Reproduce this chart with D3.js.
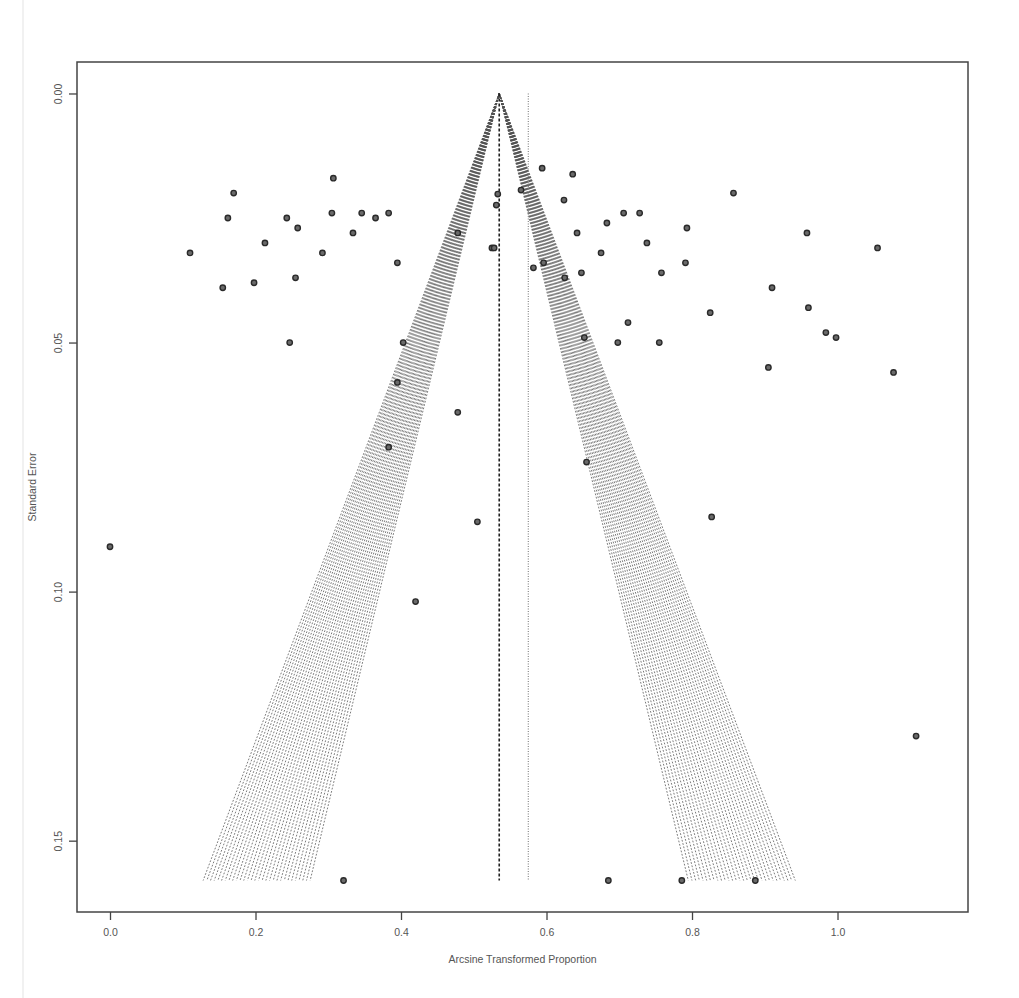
<!DOCTYPE html>
<html>
<head>
<meta charset="utf-8">
<script src="https://cdn.jsdelivr.net/npm/d3@7"></script>
<style>
  html, body { margin: 0; padding: 0; background: #fff; }
  svg { display: block; }
  text { font-family: "Liberation Sans", Arial, sans-serif; fill: #555; }
</style>
</head>
<body>
<svg id="chart" width="1019" height="998"></svg>
<script>
// ---- data ----
const studyX = [
  0.110, 0.155, 0.170, 0.162, 0.198, 0.213, 0.243, 0.258, 0.255, 0.247,
  0.292, 0.305, 0.307, 0.334, 0.346, 0.365, 0.383, 0.395, 0.403, 0.395,
  0.383, 0.478, 0.478, 0.505, 0.525, 0.528, 0.531, 0.533, 0.420, 0.000,
  0.321,
  0.565, 0.582, 0.594, 0.596, 0.624, 0.636, 0.642, 0.648, 0.652, 0.655,
  0.625, 0.675, 0.683, 0.698, 0.706, 0.712, 0.728, 0.738, 0.755, 0.758,
  0.791, 0.793, 0.825, 0.827, 0.857, 0.905, 0.910, 0.958, 0.960, 0.984,
  0.998, 1.055, 1.077, 1.108, 0.685, 0.786, 0.887
];
const studySE = [
  0.032, 0.039, 0.020, 0.025, 0.038, 0.030, 0.025, 0.027, 0.037, 0.050,
  0.032, 0.024, 0.017, 0.028, 0.024, 0.025, 0.024, 0.034, 0.050, 0.058,
  0.071, 0.064, 0.028, 0.086, 0.031, 0.031, 0.0224, 0.0202, 0.102, 0.091,
  0.158,
  0.0194, 0.035, 0.015, 0.034, 0.0214, 0.0162, 0.028, 0.036, 0.049, 0.074,
  0.037, 0.032, 0.026, 0.050, 0.024, 0.046, 0.024, 0.030, 0.050, 0.036,
  0.034, 0.027, 0.044, 0.085, 0.020, 0.055, 0.039, 0.028, 0.043, 0.048,
  0.049, 0.031, 0.056, 0.129, 0.158, 0.158, 0.158
];
const fixedEstimate = 0.535;
const randomEstimate = 0.575;
const seMax = 0.158;
const contourLevels = [0.90, 0.99];
const xTickValues = [0.0, 0.2, 0.4, 0.6, 0.8, 1.0];
const xTickLabels = ["0.0", "0.2", "0.4", "0.6", "0.8", "1.0"];
const yTickValues = [0.00, 0.05, 0.10, 0.15];
const yTickLabels = ["0.00", "0.05", "0.10", "0.15"];
const xLim = [0, 1.134];
const yLim = [0, seMax];

// ---- layout ----
const svg = d3.select("#chart");
const plot = { left: 77, right: 968, top: 62, bottom: 912 };
const padX = (xLim[1] - xLim[0]) * 0.04;
const padY = (yLim[1] - yLim[0]) * 0.04;
const x = d3.scaleLinear().domain([xLim[0] - padX, xLim[1] + padX]).range([plot.left, plot.right]);
const y = d3.scaleLinear().domain([yLim[0] - padY, yLim[1] + padY]).range([plot.top, plot.bottom]);

// faint border line at the far left of the image
svg.append("line").attr("x1", 23).attr("x2", 23).attr("y1", 0).attr("y2", 998)
  .attr("stroke", "#e3e3e3").attr("stroke-width", 1);

// standard normal quantile (Acklam's approximation)
function normQ(p) {
  const a = [-3.969683028665376e+01, 2.209460984245205e+02, -2.759285104469687e+02, 1.383577518672690e+02, -3.066479806614716e+01, 2.506628277459239e+00];
  const b = [-5.447609879822406e+01, 1.615858368580409e+02, -1.556989798598866e+02, 6.680131188771972e+01, -1.328068155288572e+01];
  const c = [-7.784894002430293e-03, -3.223964580411365e-01, -2.400758277161838e+00, -2.549732539343734e+00, 4.374664141464968e+00, 2.938163982698783e+00];
  const d = [7.784695709041462e-03, 3.224671290700398e-01, 2.445134137142996e+00, 3.754408661907416e+00];
  const pl = 0.02425;
  let q, r;
  if (p < pl) { q = Math.sqrt(-2 * Math.log(p)); return (((((c[0]*q+c[1])*q+c[2])*q+c[3])*q+c[4])*q+c[5]) / ((((d[0]*q+d[1])*q+d[2])*q+d[3])*q+1); }
  if (p <= 1 - pl) { q = p - 0.5; r = q*q; return (((((a[0]*r+a[1])*r+a[2])*r+a[3])*r+a[4])*r+a[5])*q / (((((b[0]*r+b[1])*r+b[2])*r+b[3])*r+b[4])*r+1); }
  q = Math.sqrt(-2 * Math.log(1 - p)); return -(((((c[0]*q+c[1])*q+c[2])*q+c[3])*q+c[4])*q+c[5]) / ((((d[0]*q+d[1])*q+d[2])*q+d[3])*q+1);
}

// ---- contour hatching: dotted funnel lines between the 90% and 99% contours ----
const zInner = normQ(1 - (1 - contourLevels[0]) / 2);
const zOuter = normQ(1 - (1 - contourLevels[1]) / 2);
const nHatch = 30;
const zs = d3.range(nHatch).map(i => zInner + (zOuter - zInner) * i / (nHatch - 1));

const hatch = svg.append("g").attr("fill", "none").attr("stroke", "#505050")
  .attr("stroke-width", 0.75).attr("stroke-dasharray", "1.8,1.6");
[-1, 1].forEach(side => {
  zs.forEach(z => {
    hatch.append("line")
      .attr("x1", x(fixedEstimate)).attr("y1", y(0))
      .attr("x2", x(fixedEstimate + side * z * seMax)).attr("y2", y(seMax));
  });
});

// ---- reference lines ----
svg.append("line")
  .attr("x1", x(fixedEstimate)).attr("x2", x(fixedEstimate))
  .attr("y1", y(0)).attr("y2", y(seMax))
  .attr("stroke", "#222").attr("stroke-width", 1.6).attr("stroke-dasharray", "3,2");
svg.append("line")
  .attr("x1", x(randomEstimate)).attr("x2", x(randomEstimate))
  .attr("y1", y(0)).attr("y2", y(seMax))
  .attr("stroke", "#8a8a8a").attr("stroke-width", 1.2).attr("stroke-dasharray", "1,1.5");

// ---- study points ----
svg.append("g").selectAll("circle")
  .data(studyX.map((v, i) => ({ x: v, se: studySE[i] })))
  .join("circle")
  .attr("cx", d => x(d.x)).attr("cy", d => y(d.se)).attr("r", 2.7)
  .attr("fill", "#6a6a6a").attr("stroke", "#2a2a2a").attr("stroke-width", 1.4);

// ---- frame ----
svg.append("rect")
  .attr("x", plot.left).attr("y", plot.top)
  .attr("width", plot.right - plot.left).attr("height", plot.bottom - plot.top)
  .attr("fill", "none").attr("stroke", "#444").attr("stroke-width", 1.5);

// ---- x axis ----
const xAxis = d3.axisBottom(x).tickValues(xTickValues)
  .tickFormat((d, i) => xTickLabels[i]).tickSize(8).tickPadding(9);
const gx = svg.append("g").attr("transform", `translate(0,${plot.bottom})`).call(xAxis);
gx.select(".domain").remove();
gx.selectAll(".tick line").attr("stroke", "#444").attr("stroke-width", 1.3);
gx.selectAll(".tick text").attr("font-size", 10.5).attr("fill", "#555")
  .attr("font-family", "Liberation Sans, Arial, sans-serif");

// ---- y axis ----
const yAxis = d3.axisLeft(y).tickValues(yTickValues)
  .tickFormat((d, i) => yTickLabels[i]).tickSize(8).tickPadding(0);
const gy = svg.append("g").attr("transform", `translate(${plot.left},0)`).call(yAxis);
gy.select(".domain").remove();
gy.selectAll(".tick line").attr("stroke", "#444").attr("stroke-width", 1.3);
gy.selectAll(".tick text")
  .attr("x", null).attr("dy", null)
  .attr("text-anchor", "middle")
  .attr("transform", "translate(-15,0) rotate(-90)")
  .attr("font-size", 10.5).attr("fill", "#555")
  .attr("font-family", "Liberation Sans, Arial, sans-serif");

// ---- axis titles ----
svg.append("text")
  .attr("x", (plot.left + plot.right) / 2).attr("y", 963)
  .attr("text-anchor", "middle").attr("font-size", 10.5)
  .text("Arcsine Transformed Proportion");
svg.append("text")
  .attr("transform", `translate(36,${(plot.top + plot.bottom) / 2}) rotate(-90)`)
  .attr("text-anchor", "middle").attr("font-size", 10.5)
  .text("Standard Error");
</script>
</body>
</html>
